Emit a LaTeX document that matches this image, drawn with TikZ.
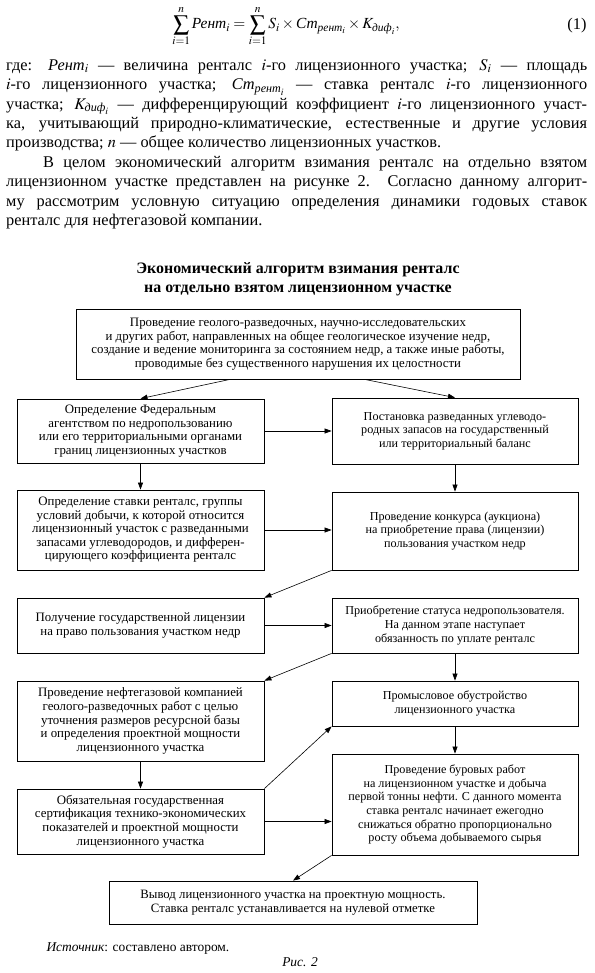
\documentclass[tikz,border=0pt]{standalone}
\usepackage{amsmath}
\usepackage{mathptmx}
\usepackage{fontspec}
\setmainfont{Liberation Serif}
\usetikzlibrary{arrows.meta,calc}

\newcommand{\bodyfont}{\fontsize{16.4}{19.5}\selectfont}
\newcommand{\boxfont}{\fontsize{12.2}{13.7}\selectfont}
\newcommand{\wideboxfont}{\fontsize{12.9}{13.6}\selectfont}
\newcommand{\jline}[1]{\makebox[581bp][s]{#1}}
\newcommand{\cyr}[1]{\textit{#1}}

\tikzset{
  algbox/.style={draw, line width=0.8pt, align=center, inner sep=2pt, font=\boxfont},
  leftbox/.style={algbox, font=\wideboxfont, minimum width=247bp},
  rightbox/.style={algbox, minimum width=246bp},
  algarr/.style={-{Triangle[length=7bp,width=5bp]}, line width=0.6pt},
}

\begin{document}
\begin{tikzpicture}[x=1bp, y=-1bp]
  \useasboundingbox (0,0) rectangle (595,973);
  % Formula and text above the figure
  \node[font=\fontsize{15.5}{18}\selectfont] (formula) at (286,26)
    {$\displaystyle\sum_{i=1}^{n}\cyr{Рент}_i=\sum_{i=1}^{n}S_i\times\cyr{Ст}_{\cyr{рент}_i}\times K_{\cyr{диф}_i},$};
  \node[font=\bodyfont, anchor=east] (eqno) at (590,26) {(1)};
  \node[font=\bodyfont, align=left, anchor=north west, inner sep=0pt] (para) at (6,59) {%
    \jline{где: $\cyr{Рент}_i$ — величина ренталс $i$-го лицензионного участка; $S_i$ — площадь}\\
    \jline{$i$-го лицензионного участка; $\cyr{Ст}_{\cyr{рент}_i}$ — ставка ренталс $i$-го лицензионного}\\
    \jline{участка; $K_{\cyr{диф}_i}$ — дифференцирующий коэффициент $i$-го лицензионного участ-}\\
    \jline{ка, учитывающий природно-климатические, естественные и другие условия}\\
    производства; $n$ — общее количество лицензионных участков.\\
    \jline{\hspace*{37bp}В целом экономический алгоритм взимания ренталс на отдельно взятом}\\
    \jline{лицензионном участке представлен на рисунке 2. Согласно данному алгорит-}\\
    \jline{му рассмотрим условную ситуацию определения динамики годовых ставок}\\
    ренталс для нефтегазовой компании.};
  % Title
  \node[font=\fontsize{16}{19.5}\selectfont\bfseries, align=center] (title) at (298,279)
    {Экономический алгоритм взимания ренталс\\на отдельно взятом лицензионном участке};
  % Boxes
  \node[algbox, font=\wideboxfont, minimum width=444bp, minimum height=70bp] (survey) at (298,344)
    {Проведение геолого-разведочных, научно-исследовательских\\
     и других работ, направленных на общее геологическое изучение недр,\\
     создание и ведение мониторинга за состоянием недр, а также иные работы,\\
     проводимые без существенного нарушения их целостности};
  \node[leftbox, minimum height=64bp] (bounds) at (140.5,431)
    {Определение Федеральным\\агентством по недропользованию\\или его территориальными органами\\границ лицензионных участков};
  \node[rightbox, minimum height=66bp] (balance) at (455,431)
    {Постановка разведанных углеводо-\\родных запасов на государственный\\или территориальный баланс};
  \node[leftbox, minimum height=80bp] (rate) at (140.5,530)
    {Определение ставки ренталс, группы\\условий добычи, к которой относится\\лицензионный участок с разведанными\\запасами углеводородов, и дифферен-\\цирующего коэффициента ренталс};
  \node[rightbox, minimum height=78bp] (auction) at (455,531)
    {Проведение конкурса (аукциона)\\на приобретение права (лицензии)\\пользования участком недр};
  \node[leftbox, minimum height=55bp] (licence) at (140.5,625.5)
    {Получение государственной лицензии\\на право пользования участком недр};
  \node[rightbox, minimum height=55bp] (status) at (455,625.5)
    {Приобретение статуса недропользователя.\\На данном этапе наступает\\обязанность по уплате ренталс};
  \node[leftbox, minimum height=80bp] (explore) at (140.5,721)
    {Проведение нефтегазовой компанией\\геолого-разведочных работ с целью\\уточнения размеров ресурсной базы\\и определения проектной мощности\\лицензионного участка};
  \node[rightbox, minimum height=45bp] (develop) at (455,703.5)
    {Промысловое обустройство\\лицензионного участка};
  \node[leftbox, minimum height=65bp] (certify) at (140.5,821.5)
    {Обязательная государственная\\сертификация технико-экономических\\показателей и проектной мощности\\лицензионного участка};
  \node[rightbox, minimum height=101bp] (drill) at (455,804.5)
    {Проведение буровых работ\\на лицензионном участке и добыча\\первой тонны нефти. С данного момента\\ставка ренталс начинает ежегодно\\снижаться обратно пропорционально\\росту объема добываемого сырья};
  \node[algbox, font=\fontsize{12.8}{13.7}\selectfont, minimum width=368bp, minimum height=43bp] (output) at (293,902.5)
    {Вывод лицензионного участка на проектную мощность.\\Ставка ренталс устанавливается на нулевой отметке};
  % Arrows
  \draw[algarr] ($(survey.south west)!0.347!(survey.south east)$) -- (bounds.north);
  \draw[algarr] ($(survey.south west)!0.65!(survey.south east)$) -- (balance.north);
  \draw[algarr] (bounds.east) -- (bounds.east -| balance.west);
  \draw[algarr] (bounds) -- (rate);
  \draw[algarr] (balance) -- (auction);
  \draw[algarr] (rate.east) -- (rate.east -| auction.west);
  \draw[algarr] (auction.south west) -- (licence.north east);
  \draw[algarr] (licence.east) -- (licence.east -| status.west);
  \draw[algarr] (status.south west) -- (explore.north east);
  \draw[algarr] (status) -- (develop);
  \draw[algarr] (develop) -- (drill);
  \draw[algarr] (explore) -- (certify);
  \draw[algarr] (certify.north east) -- (develop.south west);
  \draw[algarr] (certify.east) -- (certify.east -| drill.west);
  \draw[algarr] (drill.south west) -- (output.north);
  % Source and caption
  \node[font=\fontsize{13.5}{15}\selectfont, anchor=base west] (src) at (43,951)
    {\textit{Источник}: составлено автором.};
  \node[font=\fontsize{13.5}{15}\selectfont\itshape] (fig) at (300,962) {Рис. 2};
\end{tikzpicture}
\end{document}
